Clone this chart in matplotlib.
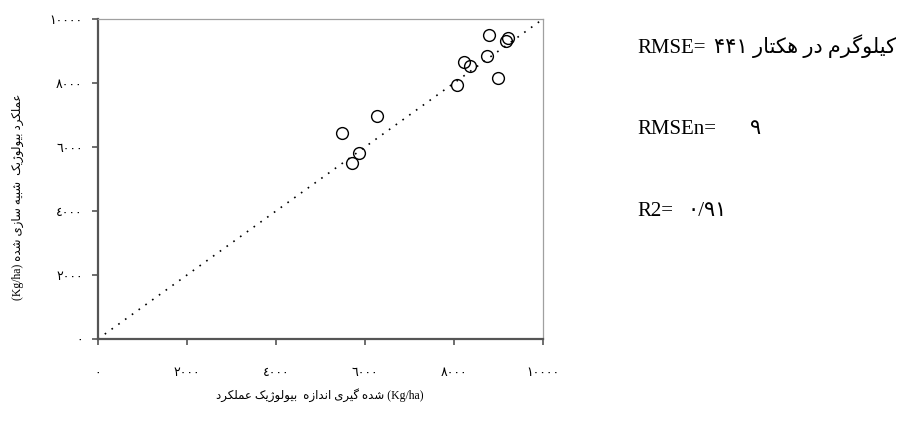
import numpy as np
import matplotlib
matplotlib.use("Agg")
import matplotlib.pyplot as plt

# measured vs simulated biological yield (Kg/ha)
measured = [8787, 9206, 9169, 8734, 8232, 8360, 8982, 8060, 6277, 5483, 5865, 5715]
simulated = [9502, 9399, 9325, 8857, 8650, 8546, 8141, 7923, 6957, 6438, 5815, 5504]

tick_values = [0, 2000, 4000, 6000, 8000, 10000]
tick_labels = ["٠", "٢٠٠٠", "٤٠٠٠", "٦٠٠٠", "٨٠٠٠", "١٠٠٠٠"]

xlabel_words = ["عملکرد", "بیولوژیک", "", "اندازه", "گیری", "شده", "(Kg/ha)"]
ylabel_words = ["عملکرد", "بیولوژیک", "", "شبیه", "سازی", "شده", "(Kg/ha)"]
stat_names = ["RMSE=", "RMSEn=", "R2="]
stat_values = [["۴۴۱", "کیلوگرم", "در", "هکتار"], ["۹"], ["۰/۹۱"]]

# presentation forms: isolated, final, initial, medial
FORMS = {
    "ا": ("\uFE8D", "\uFE8E"),
    "ب": ("\uFE8F", "\uFE90", "\uFE91", "\uFE92"),
    "ت": ("\uFE95", "\uFE96", "\uFE97", "\uFE98"),
    "د": ("\uFEA9", "\uFEAA"),
    "ر": ("\uFEAD", "\uFEAE"),
    "ز": ("\uFEAF", "\uFEB0"),
    "ژ": ("\uFB8A", "\uFB8B"),
    "س": ("\uFEB1", "\uFEB2", "\uFEB3", "\uFEB4"),
    "ش": ("\uFEB5", "\uFEB6", "\uFEB7", "\uFEB8"),
    "ع": ("\uFEC9", "\uFECA", "\uFECB", "\uFECC"),
    "ک": ("\uFB8E", "\uFB8F", "\uFB90", "\uFB91"),
    "گ": ("\uFB92", "\uFB93", "\uFB94", "\uFB95"),
    "ل": ("\uFEDD", "\uFEDE", "\uFEDF", "\uFEE0"),
    "م": ("\uFEE1", "\uFEE2", "\uFEE3", "\uFEE4"),
    "ن": ("\uFEE5", "\uFEE6", "\uFEE7", "\uFEE8"),
    "ه": ("\uFEE9", "\uFEEA", "\uFEEB", "\uFEEC"),
    "و": ("\uFEED", "\uFEEE"),
    "ی": ("\uFBFC", "\uFBFD", "\uFBFE", "\uFBFF"),
}


def shape(word):
    # contextual forms, then reverse so the word reads right-to-left
    if not any(c in FORMS for c in word):
        return word
    out = []
    for i, c in enumerate(word):
        f = FORMS.get(c)
        if f is None:
            out.append(c)
            continue
        prev = word[i - 1] if i > 0 else None
        nxt = word[i + 1] if i + 1 < len(word) else None
        join_prev = prev in FORMS and len(FORMS[prev]) == 4
        join_next = len(f) == 4 and nxt in FORMS
        if join_prev and join_next:
            out.append(f[3])
        elif join_prev:
            out.append(f[1])
        elif join_next:
            out.append(f[2])
        else:
            out.append(f[0])
    return "".join(reversed(out))


def visual(words):
    return " ".join(shape(w) for w in words)


fonts = ["Liberation Serif", "DejaVu Sans"]
W, H = 914, 432

fig = plt.figure(figsize=(9.14, 4.32), dpi=100)
ax = fig.add_axes([98 / W, 1 - 339 / H, 445 / W, 320 / H])

ax.plot([0, 10000], [0, 10000], color="black", lw=1.2, linestyle=(0, (1, 4)))
ax.plot(measured, simulated, "o", mfc="none", mec="black", ms=8.5, mew=1.0)

ax.set_xlim(0, 10000)
ax.set_ylim(0, 10000)
ax.set_xticks(tick_values)
ax.set_yticks(tick_values)
ax.set_xticklabels(tick_labels, family=fonts, fontsize=9)
ax.set_yticklabels(tick_labels, family=fonts, fontsize=9)
ax.tick_params(axis="x", length=4.5, width=1.2, color="#555555", pad=16)
ax.tick_params(axis="y", length=4.5, width=1.2, color="#555555", pad=6.5)

for s in ["left", "bottom"]:
    ax.spines[s].set_color("#555555")
    ax.spines[s].set_linewidth(1.6)
for s in ["top", "right"]:
    ax.spines[s].set_color("#a0a0a0")
    ax.spines[s].set_linewidth(0.9)

fig.text(320 / W, 1 - 395 / H, visual(xlabel_words), family=fonts, fontsize=8.5,
         ha="center", va="center")
fig.text(18 / W, 1 - 197 / H, visual(list(reversed(ylabel_words))), family=fonts,
         fontsize=8.5, rotation=90, ha="center", va="center")

stat_base = [53, 134, 216]
value_x = [714, 750, 688]
for name, vals, yb, vx in zip(stat_names, stat_values, stat_base, value_x):
    fig.text(637 / W, 1 - yb / H, name, family=fonts, fontsize=15,
             ha="left", va="baseline")
    words = [vals[0]] + list(reversed(vals[1:]))
    fig.text(vx / W, 1 - yb / H, visual(words), family=fonts, fontsize=15,
             ha="left", va="baseline")

fig.savefig("out.png", dpi=100)
